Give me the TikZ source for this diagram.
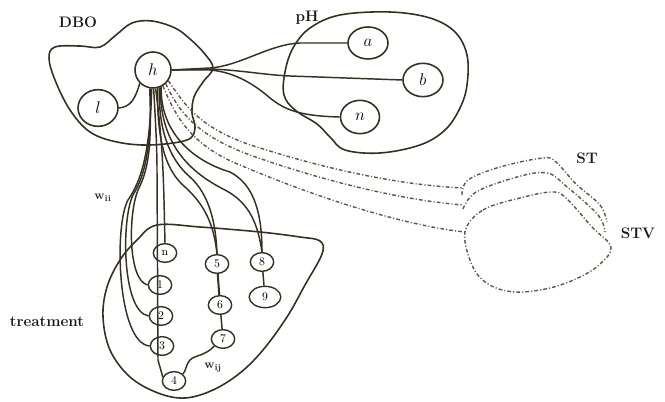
\documentclass[tikz,border=0pt]{standalone}
\usepackage{tikz}
\usetikzlibrary{shapes.geometric}
\definecolor{ink}{HTML}{353021}
\definecolor{dashink}{HTML}{5E5646}
\begin{document}
\begin{tikzpicture}[x=0.03cm,y=-0.03cm,
  line/.style={draw=ink,line width=1.25pt},
  blob/.style={draw=ink,line width=1.35pt},
  dd/.style={draw=dashink,line width=1.2pt,dash pattern=on 3.2pt off 1.8pt on 0.9pt off 1.8pt},
  bignode/.style={ellipse,draw=ink,line width=1.35pt,inner sep=0pt,font=\fontsize{15}{15}\selectfont},
  numnode/.style={ellipse,draw=ink,line width=1.2pt,inner sep=0pt,minimum width=0.7cm,minimum height=0.56cm,font=\fontsize{10}{10}\selectfont},
  lbl/.style={font=\fontsize{13}{13}\selectfont\bfseries,text=black!90},
  wlbl/.style={font=\fontsize{10.5}{10.5}\selectfont\bfseries,text=black!85}]
\useasboundingbox (0,0) rectangle (665,402);

% nodes
\node[bignode,minimum width=1.08cm,minimum height=1.08cm] (h) at (153,70) {$h$};
\node[bignode,minimum width=1.2cm,minimum height=1.1cm] (l) at (98,108) {$l$};
\node[bignode,minimum width=1.2cm,minimum height=0.96cm] (a) at (368,43) {$a$};
\node[bignode,minimum width=1.2cm,minimum height=1.0cm] (b) at (423,80) {$b$};
\node[bignode,minimum width=1.17cm,minimum height=1.0cm] (n) at (360,117) {$n$};

\node[numnode] (n0) at (165,253) {n};
\node[numnode] (n1) at (160,285) {1};
\node[numnode] (n2) at (161,316) {2};
\node[numnode] (n3) at (162,346) {3};
\node[numnode] (n4) at (174,381) {4};
\node[numnode] (n5) at (217,264) {5};
\node[numnode] (n6) at (220,305) {6};
\node[numnode] (n7) at (223,339) {7};
\node[numnode] (n8) at (262,262) {8};
\node[numnode,minimum width=0.95cm,minimum height=0.64cm] (n9) at (265,297) {9};

% labels
\node[lbl] (dbo) at (78,22) {DBO};
\node[lbl] (ph) at (307,18) {pH};
\node[lbl] (st) at (587,158) {ST};
\node[lbl] (stv) at (638,233) {STV};
\node[lbl] (tr) at (47,322) {treatment};
\node[wlbl] (wii) at (103,198) {w\textsubscript{ii}};
\node[wlbl] (wij) at (213,368) {w\textsubscript{ij}};

% blobs
\draw[blob] plot[smooth cycle,tension=0.6] coordinates {
 (55,47) (80,46) (100,47) (116,35) (132,23) (152,21) (175,28) (190,39) (204,53) (213,68)
 (203,82) (194,97) (192,113) (195,128) (187,140) (150,145) (117,142) (90,132) (70,110) (55,80) (49,58)};
\draw[blob] plot[smooth cycle,tension=0.6] coordinates {
 (390,12) (430,18) (455,32) (467,55) (467,85) (460,108) (445,130) (420,145) (380,153)
 (345,150) (330,137) (317,124) (295,110) (284,95) (285,72) (293,48) (310,28) (340,15)};
\draw[blob] plot[smooth cycle,tension=0.6] coordinates {
 (157,225) (200,227) (260,232) (300,237) (320,241) (322,254) (305,285) (287,317) (263,350)
 (240,373) (213,390) (185,398) (158,393) (130,377) (110,350) (103,317) (107,287) (120,260) (137,240)};

% ST / STV
\draw[dd] plot[smooth,tension=0.6] coordinates {(462,195) (468,180) (500,167) (543,158) (556,162) (576,184) (600,205) (607,222)};
\draw[dd] plot[smooth,tension=0.6] coordinates {(463,209) (476,192) (517,177) (547,173) (566,186) (598,215) (605,232)};
\draw[dd] plot[smooth cycle,tension=0.6] coordinates {(465,232) (483,210) (520,198) (552,192) (566,198) (592,227) (611,247) (600,264) (580,277) (550,288) (515,292) (488,284) (472,265)};

% dashed connectors from h
\draw[dd] (h.-35) .. controls (185,105) and (200,130) .. (260,148) .. controls (330,170) and (400,185) .. (463,188);
\draw[dd] (h.-47) .. controls (178,110) and (195,135) .. (250,155) .. controls (320,180) and (400,200) .. (463,205);
\draw[dd] (h.-58) .. controls (175,115) and (190,145) .. (240,165) .. controls (310,195) and (400,225) .. (465,232);

% h to pH
\draw[line] (h.east) -- (210,68) .. controls (240,66) and (270,44) .. (300,43) -- (a.west);
\draw[line] (h.east) -- (210,69) .. controls (240,70) and (265,75) .. (290,76) -- (b.west);
\draw[line] (h.east) -- (210,70) .. controls (235,72) and (255,85) .. (270,98) .. controls (285,110) and (300,116) .. (n.west);
% h to l
\draw[line] (h.225) .. controls (135,100) and (130,107) .. (l.east);

% h to treatment
\draw[line] (h.-88) .. controls (156,130) and (157,150) .. (157,170) -- (158,360) -- (n4.160);
\draw[line] (h.-82) .. controls (161,130) and (163,160) .. (164,200) -- (n0.north);
\draw[line] (h.-100) .. controls (152,150) and (148,170) .. (138,190) .. controls (128,215) and (128,280) .. (n1.west);
\draw[line] (h.-97) .. controls (151,150) and (145,175) .. (133,195) .. controls (121,220) and (122,312) .. (n2.west);
\draw[line] (h.-94) .. controls (150,150) and (142,180) .. (128,200) .. controls (114,225) and (117,343) .. (n3.west);
\draw[line] (h.-70) .. controls (158,130) and (170,160) .. (190,177) .. controls (210,195) and (216,225) .. (n5.north);
\draw[line] (h.-76) .. controls (157,140) and (165,170) .. (185,187) .. controls (205,205) and (214,225) .. (n5.north);
\draw[line] (h.-64) .. controls (160,130) and (190,160) .. (230,172) .. controls (255,185) and (262,215) .. (n8.north);
\draw[line] (h.-67) .. controls (160,140) and (185,170) .. (225,190) .. controls (250,203) and (258,225) .. (n8.north);

% inside treatment
\draw[line,line width=1.7pt] (n5) -- (n6);
\draw[line] (n6) -- (n7);
\draw[line] (n8) -- (n9);
\draw[line] (n7.south west) .. controls (205,356) and (195,355) .. (190,360) .. controls (185,366) and (186,372) .. (n4.north east);
\end{tikzpicture}
\end{document}
